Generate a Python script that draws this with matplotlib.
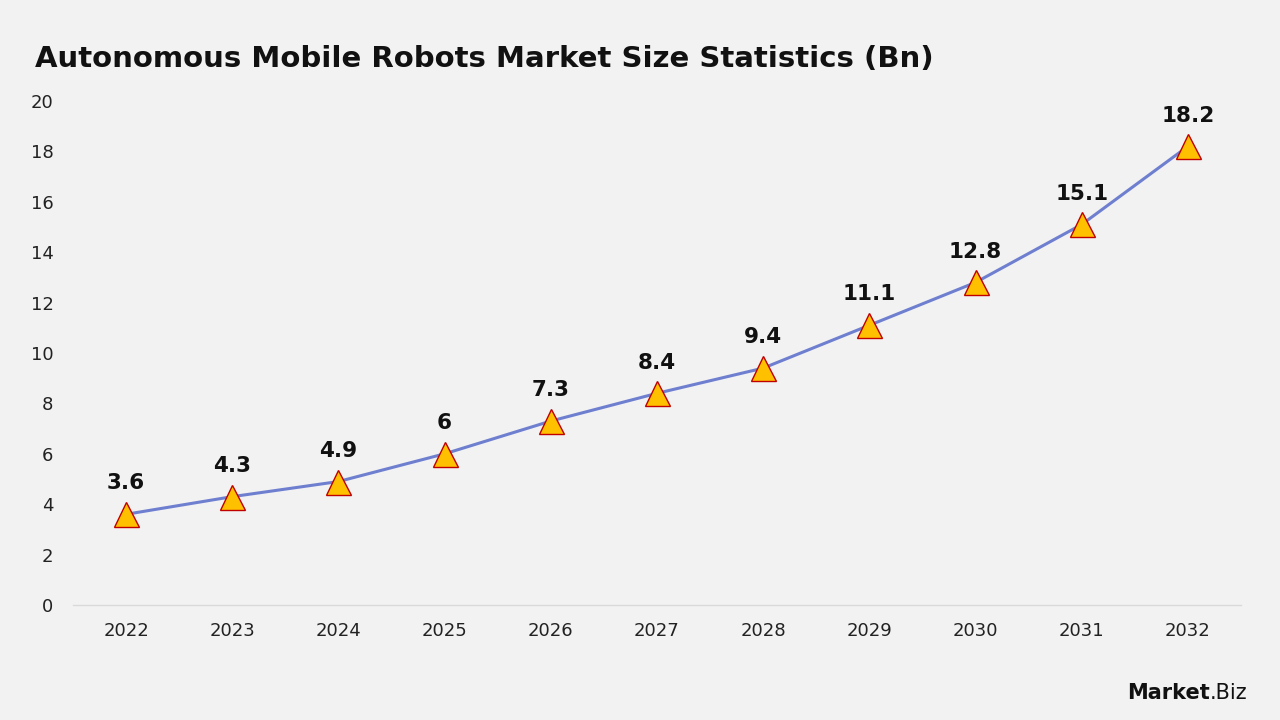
import matplotlib
matplotlib.use("Agg")
import matplotlib.pyplot as plt

years = ["2022", "2023", "2024", "2025", "2026", "2027", "2028", "2029", "2030", "2031", "2032"]
values = [3.6, 4.3, 4.9, 6, 7.3, 8.4, 9.4, 11.1, 12.8, 15.1, 18.2]
labels = ["3.6", "4.3", "4.9", "6", "7.3", "8.4", "9.4", "11.1", "12.8", "15.1", "18.2"]

plt.rcParams['font.family'] = ['DejaVu Sans']
bg = "#f2f2f2"
fig = plt.figure(figsize=(12.8, 7.2), dpi=100, facecolor=bg)
ax = fig.add_axes([0.057, 0.1597, 0.9125, 0.70])
ax.set_facecolor(bg)

x = list(range(len(years)))
ax.plot(x, values, color="#6f7fd0", linewidth=2.2, zorder=2)
ax.plot(x, values, linestyle="none", marker="^", markersize=18,
        markerfacecolor="#FFC000", markeredgecolor="#C00000", markeredgewidth=1, zorder=3)
for xi, v, lab in zip(x, values, labels):
    ax.annotate(lab, (xi, v), xytext=(0, 15), textcoords="offset points",
                ha="center", va="bottom", fontsize=15.5, fontweight="bold", color="#111111")

ax.set_xlim(-0.5, len(years) - 0.5)
ax.set_ylim(0, 20)
ax.set_yticks(range(0, 21, 2))
ax.set_xticks(x)
ax.set_xticklabels(years)
ax.tick_params(axis="both", length=0, labelsize=13, colors="#222222")
ax.tick_params(axis="x", pad=12)
ax.tick_params(axis="y", pad=14)
for s in ["top", "right", "left"]:
    ax.spines[s].set_visible(False)
ax.spines["bottom"].set_color("#d9d9d9")
ax.spines["bottom"].set_linewidth(1)

fig.text(0.027, 0.918, "Autonomous Mobile Robots Market Size Statistics (Bn)",
         fontsize=21, fontweight="bold", color="#111111", ha="left", va="center")
fig.text(0.945, 0.038, "Market", fontsize=15, fontweight="bold", color="#111111", ha="right", va="center")
fig.text(0.945, 0.038, ".Biz", fontsize=15, color="#111111", ha="left", va="center")
fig.savefig("out.png", dpi=100, facecolor=bg)
